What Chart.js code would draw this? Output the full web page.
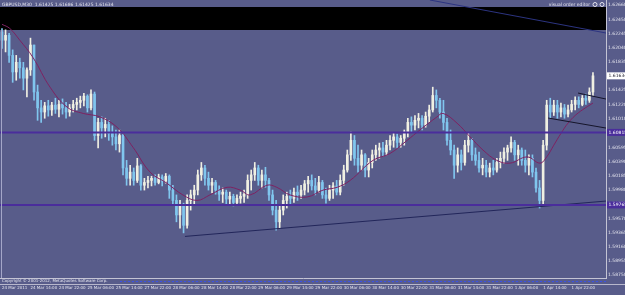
<!DOCTYPE html>
<html>
<head>
<meta charset="utf-8">
<script src="https://cdn.jsdelivr.net/npm/chart.js@4.4.1/dist/chart.umd.min.js"></script>
<style>
  html, body { margin: 0; padding: 0; background: #585c8a; }
  #wrap { width: 625px; height: 295px; }
</style>
</head>
<body>
<div id="wrap"><canvas id="chart" width="625" height="295"></canvas></div>
<script>
// GBPUSD M30, one candle per hour, prices in pips (x 1/10000)
const open = [
  16227,16215,16222,16193,16169,16183,16175,16160,16172,16208,
  16140,16117,16111,16120,16114,16121,16115,16122,16117,16111,
  16117,16122,16125,16128,16134,16117,16137,16077,16096,16088,
  16093,16080,16075,16065,16077,16030,16015,16024,16012,16033,
  16005,16009,16012,16015,16009,16017,16011,16018,15998,15983,
  15962,15976,15947,15983,15991,15998,16020,16030,16015,16005,
  16009,15998,15992,15995,15985,15989,15980,15986,15989,15992,
  16012,16020,16030,16012,16020,16012,15991,15969,15952,15969,
  15983,15989,15986,15995,15991,15998,16007,16012,16004,15998,
  16009,15991,15986,15998,16004,15995,16012,16027,16049,16070,
  16044,16034,16049,16027,16038,16049,16056,16059,16053,16063,
  16070,16075,16067,16073,16082,16096,16092,16099,16102,16092,
  16105,16114,16135,16128,16111,16096,16070,16056,16034,16049,
  16038,16063,16070,16049,16041,16030,16034,16024,16030,16027,
  16038,16044,16053,16059,16067,16049,16056,16041,16034,16044,
  16024,16001,15983,16063,16121,16111,16121,16111,16117,16108,
  16114,16122,16128,16122,16131,16128,16140
]
const high = [
  16232,16230,16225,16201,16193,16189,16183,16175,16218,16208,
  16150,16128,16125,16128,16125,16131,16128,16130,16125,16122,
  16128,16131,16134,16138,16136,16143,16140,16102,16104,16102,
  16099,16091,16085,16085,16079,16041,16034,16030,16044,16035,
  16015,16018,16018,16020,16021,16020,16022,16020,16005,15991,
  15983,15979,15991,15998,16005,16027,16038,16034,16024,16015,
  16012,16004,16001,15998,15995,15992,15991,15995,15998,16020,
  16027,16038,16034,16027,16031,16015,15998,15983,15976,15991,
  15995,15998,16001,16004,16005,16012,16018,16020,16015,16018,
  16012,16001,16005,16009,16012,16020,16034,16056,16082,16077,
  16063,16056,16051,16044,16056,16063,16066,16067,16070,16077,
  16080,16079,16077,16085,16102,16104,16106,16109,16106,16111,
  16121,16147,16143,16131,16128,16102,16085,16063,16059,16056,
  16070,16080,16073,16059,16053,16044,16041,16037,16041,16044,
  16053,16059,16063,16075,16070,16063,16059,16056,16049,16049,
  16030,16012,16070,16128,16131,16128,16128,16124,16122,16121,
  16128,16133,16133,16135,16137,16146,16168
]
const low = [
  16203,16198,16183,16154,16157,16160,16143,16133,16164,16128,
  16099,16096,16102,16105,16106,16109,16104,16108,16102,16105,
  16111,16114,16117,16120,16111,16114,16070,16059,16073,16075,
  16070,16063,16056,16053,16020,16005,16005,16005,16009,15998,
  15998,16001,16004,16005,16007,16004,16008,15986,15976,15952,
  15943,15936,15943,15969,15976,15991,16012,16005,15998,15994,
  15992,15983,15980,15976,15978,15975,15976,15979,15980,15986,
  15998,16012,16005,16001,16002,15983,15962,15940,15943,15962,
  15972,15976,15980,15983,15986,15991,15995,15998,15991,15995,
  15986,15979,15983,15986,15991,15991,16005,16024,16041,16034,
  16024,16027,16017,16017,16030,16041,16044,16047,16049,16056,
  16060,16059,16060,16063,16075,16082,16085,16088,16085,16089,
  16096,16111,16117,16102,16085,16063,16049,16015,16024,16027,
  16034,16053,16041,16034,16024,16020,16017,16017,16020,16024,
  16030,16037,16041,16053,16041,16034,16034,16024,16020,16017,
  15995,15972,15976,16056,16102,16106,16102,16104,16102,16104,
  16111,16114,16117,16120,16122,16125,16135
]
const close = [
  16215,16222,16193,16169,16183,16175,16160,16172,16208,16140,
  16117,16111,16120,16114,16121,16115,16122,16117,16111,16117,
  16122,16125,16128,16134,16117,16137,16077,16096,16088,16093,
  16080,16075,16065,16077,16030,16015,16024,16012,16033,16005,
  16009,16012,16015,16009,16017,16011,16018,15998,15983,15962,
  15976,15947,15983,15991,15998,16020,16030,16015,16005,16009,
  15998,15992,15995,15985,15989,15980,15986,15989,15992,16012,
  16020,16030,16012,16020,16012,15991,15969,15952,15969,15983,
  15989,15986,15995,15991,15998,16007,16012,16004,15998,16009,
  15991,15986,15998,16004,15995,16012,16027,16049,16070,16044,
  16034,16049,16027,16038,16049,16056,16059,16053,16063,16070,
  16075,16067,16073,16082,16096,16092,16099,16102,16092,16105,
  16114,16135,16128,16111,16096,16070,16056,16034,16049,16038,
  16063,16070,16049,16041,16030,16034,16024,16030,16027,16038,
  16044,16053,16059,16067,16049,16056,16041,16034,16044,16024,
  16001,15983,16063,16121,16111,16121,16111,16117,16108,16114,
  16122,16128,16122,16131,16128,16140,16163.4
]

// moving average, read at a few candle positions
const maIdx = [0, 2.2, 5, 8.7, 13.5, 18.3, 22.8, 27.5, 32.3, 36.8, 41.6, 46.3, 50.8, 54.8, 58.4,
  63.2, 66.9, 69.7, 74.4, 77.2, 80.9, 85.7, 90.2, 94.1, 97.8, 104.2, 109, 113.8, 117.4, 122.2,
  123.9, 127.8, 131.5, 135.1, 139, 142.7, 147.5, 151.1, 153, 155, 157, 159, 161, 163, 166]
const maVal = [16238, 16232, 16215, 16190, 16147, 16118, 16109, 16104, 16089, 16060, 16024, 16008, 15991, 15983, 15991,
  16002, 15998, 15991, 16005, 16002, 15991, 15988, 15998, 16002, 16012, 16041, 16051, 16070, 16085, 16104,
  16109, 16095, 16075, 16056, 16041, 16037, 16046, 16037, 16046, 16063, 16080, 16095, 16106, 16114, 16124]

const timeLabels = ['24 Mar 2011', '24 Mar 14:00', '24 Mar 22:00', '25 Mar 06:00', '25 Mar 14:00',
  '27 Mar 22:00', '28 Mar 06:00', '28 Mar 14:00', '28 Mar 22:00', '29 Mar 06:00', '29 Mar 14:00',
  '29 Mar 22:00', '30 Mar 06:00', '30 Mar 14:00', '30 Mar 22:00', '31 Mar 06:00', '31 Mar 14:00',
  '31 Mar 22:00', '1 Apr 06:00', '1 Apr 14:00', '1 Apr 22:00']
const labelIdx = [0, 8, 16, 24, 32, 40, 48, 56, 64, 72, 80, 88, 96, 104, 112, 120, 128, 136, 144, 152, 160]

const yTicks = [1.62660, 1.62450, 1.62245, 1.62040, 1.61835, 1.61630, 1.61425, 1.61220, 1.61010, 1.60805,
  1.60595, 1.60390, 1.60185, 1.59980, 1.59775, 1.59570, 1.59365, 1.59160, 1.58955, 1.58750]

// chart objects
const hLines = [1.60815, 1.59765]
const bandTop = 1.62631
const bandBottom = 1.62298
const topTrend = [{ x: 120.2, y: 1.62732 }, { x: 169.66, y: 1.62254 }]
const lowTrend = [{ x: 51.4, y: 1.59309 }, { x: 169.66, y: 1.59821 }]
const chanLow = [{ x: 153.4, y: 1.61023 }, { x: 169.66, y: 1.60878 }]
const chanHigh = [{ x: 161.8, y: 1.61385 }, { x: 169.66, y: 1.61298 }]
const lastPrice = 1.61634

const xMin = -0.56, xMax = 169.66
const yMin = 1.58707, yMax = 1.62732

const BG = '#585c8a'
const UP = '#f0f0e2'
const DOWN = '#80c6ee'
const TXT = '#e4e4ee'

Chart.defaults.font.family = 'DejaVu Sans'

const P = v => v / 10000
const idx = close.map((_, i) => i)
const candleColor = idx.map(i => close[i] >= open[i] ? UP : DOWN)
const flat = v => [{ x: xMin, y: v }, { x: xMax, y: v }]

const overlay = {
  id: 'overlay',
  beforeDraw(chart) {
    const { ctx, width, height } = chart
    ctx.save()
    ctx.fillStyle = BG
    ctx.fillRect(0, 0, width, height)
    ctx.restore()
  },
  afterDraw(chart) {
    const { ctx, chartArea: a, scales: { y } } = chart
    ctx.save()
    ctx.font = '4.5px "DejaVu Sans"'
    ctx.textBaseline = 'middle'

    // left window border
    ctx.strokeStyle = '#a4a6c8'
    ctx.lineWidth = 1
    ctx.beginPath()
    ctx.moveTo(1.5, 30)
    ctx.lineTo(1.5, a.bottom)
    ctx.stroke()

    // header texts
    ctx.fillStyle = TXT
    ctx.textAlign = 'left'
    ctx.fillText('GBPUSD,M30  1.61425 1.61686 1.61425 1.61634', 2, 4.5)
    ctx.textAlign = 'right'
    ctx.fillText('visual order editor', 590, 4.5)
    ctx.strokeStyle = TXT
    ctx.beginPath(); ctx.arc(595, 4.5, 2, 0, Math.PI * 2); ctx.stroke()
    ctx.beginPath(); ctx.arc(602, 4.5, 2, 0, Math.PI * 2); ctx.stroke()

    // price boxes on the axis
    const box = (v, bg, fg) => {
      const py = y.getPixelForValue(v)
      ctx.fillStyle = bg
      ctx.fillRect(a.right + 1, py - 3.5, 18, 7)
      ctx.fillStyle = fg
      ctx.textAlign = 'left'
      ctx.fillText(v.toFixed(5), a.right + 2.5, py)
    }
    box(lastPrice, '#ffffff', '#202030')
    hLines.forEach(v => box(v, '#4a2d9c', '#ffffff'))

    // indicator strip under the main window
    ctx.font = '4px "DejaVu Sans"'
    ctx.fillStyle = TXT
    ctx.textAlign = 'left'
    ctx.fillText('Copyright \u00a9 2001-2012, MetaQuotes Software Corp.', 2, a.bottom + 3)
    ctx.strokeStyle = '#3c52e6'
    ctx.setLineDash([2, 2])
    ctx.beginPath()
    ctx.moveTo(120, a.bottom + 3.5)
    ctx.lineTo(a.right, a.bottom + 3.5)
    ctx.stroke()
    ctx.setLineDash([])
    ctx.strokeStyle = '#b8b8cc'
    ctx.beginPath()
    ctx.moveTo(0, a.bottom + 6.5)
    ctx.lineTo(chart.width, a.bottom + 6.5)
    ctx.stroke()
    ctx.restore()
  }
}

new Chart(document.getElementById('chart').getContext('2d'), {
  type: 'bar',
  data: {
    datasets: [
      { type: 'line', data: flat(bandBottom), fill: { value: bandTop }, backgroundColor: '#000000',
        borderWidth: 0, pointRadius: 0, order: 20 },
      { type: 'line', data: topTrend, borderColor: '#2c3480', borderWidth: 1, pointRadius: 0, order: 1 },
      { type: 'line', data: lowTrend, borderColor: '#22265a', borderWidth: 1, pointRadius: 0, order: 1 },
      { type: 'line', data: chanLow, borderColor: '#15152a', borderWidth: 1, pointRadius: 0, order: 1 },
      { type: 'line', data: chanHigh, borderColor: '#15152a', borderWidth: 1, pointRadius: 0, order: 1 },
      { type: 'bar', data: idx.map(i => ({ x: i, y: [P(low[i]), P(high[i])] })),
        backgroundColor: candleColor, barThickness: 1, grouped: false, order: 4 },
      { type: 'bar', data: idx.map(i => ({ x: i, y: [P(open[i]), P(close[i])] })),
        backgroundColor: candleColor, barThickness: 2, grouped: false, minBarLength: 1, order: 3 },
      { type: 'line', data: maIdx.map((x, i) => ({ x, y: P(maVal[i]) })), borderColor: '#7e2262',
        borderWidth: 1, pointRadius: 0, tension: 0.4, order: 2 },
      ...hLines.map(v => ({ type: 'line', data: flat(v), borderColor: '#4a2d9c', borderWidth: 2,
        pointRadius: 0, order: 0 }))
    ]
  },
  options: {
    responsive: false,
    animation: false,
    events: [],
    layout: { padding: 0 },
    plugins: { legend: { display: false }, tooltip: { enabled: false } },
    scales: {
      x: {
        type: 'linear', min: xMin, max: xMax, offset: false,
        grid: { display: false, drawTicks: false },
        border: { display: true, color: '#c4c4d4', width: 1 },
        ticks: {
          align: 'start', autoSkip: false, maxRotation: 0, minRotation: 0, padding: 8,
          color: TXT, font: { size: 4 },
          callback: (v, i) => timeLabels[i]
        },
        afterBuildTicks: s => { s.ticks = labelIdx.map(v => ({ value: v })) },
        afterFit: s => { s.height = 17; s.paddingLeft = 0; s.paddingRight = 0 }
      },
      y: {
        position: 'right', min: yMin, max: yMax,
        grid: { display: false, drawTicks: false },
        border: { display: true, color: '#c4c4d4', width: 1 },
        ticks: {
          autoSkip: false, padding: 2, color: TXT, font: { size: 4.5 },
          callback: v => v.toFixed(5)
        },
        afterBuildTicks: s => { s.ticks = yTicks.map(v => ({ value: v })) },
        afterFit: s => { s.width = 19; s.paddingTop = 0; s.paddingBottom = 0 }
      }
    }
  },
  plugins: [overlay]
})
</script>
</body>
</html>
